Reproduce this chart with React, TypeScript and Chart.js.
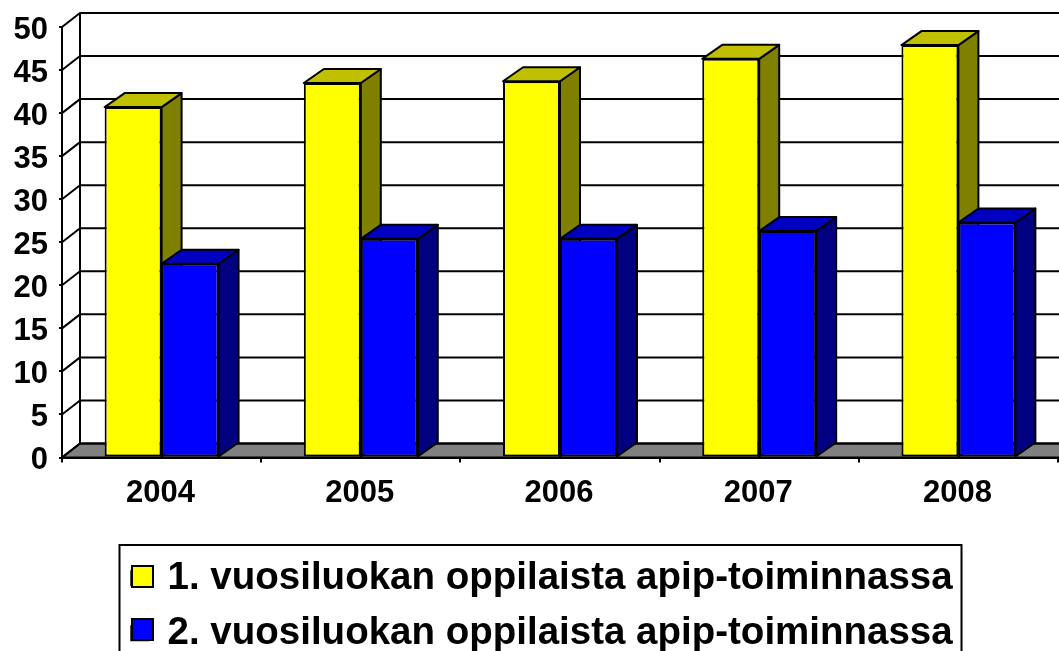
import React, { useEffect, useRef } from "react";
import { Chart, registerables } from "chart.js";

Chart.register(...registerables);

const years = ["2004", "2005", "2006", "2007", "2008"];
const firstGrade = [40.7, 43.5, 43.7, 46.3, 47.9];
const secondGrade = [22.5, 25.4, 25.4, 26.3, 27.3];
const firstLabel = "1. vuosiluokan oppilaista apip-toiminnassa";
const secondLabel = "2. vuosiluokan oppilaista apip-toiminnassa";

const FONT = "'Liberation Sans', Arial, sans-serif";
const WALL_DX = 18;
const BAR_DX = 20;
const DY = 14;
const sideColors = ["#808000", "#000080"];
const topColors = ["#C0C000", "#0000C0"];
const faceColors = ["#FFFF00", "#0000FF"];

const poly = (ctx: CanvasRenderingContext2D, pts: number[][], fill: string | null) => {
  ctx.beginPath();
  pts.forEach((p, i) => (i ? ctx.lineTo(p[0], p[1]) : ctx.moveTo(p[0], p[1])));
  ctx.closePath();
  if (fill) {
    ctx.fillStyle = fill;
    ctx.fill();
  }
  ctx.stroke();
};

const depthPlugin = {
  id: "depth",
  afterLayout(chart: any) {
    chart.legend.left += 13;
    chart.legend.right += 13;
  },
  beforeDatasetsDraw(chart: any) {
    const { ctx, chartArea: a, scales } = chart;
    const y = scales.y;
    const farRight = chart.width + 40;
    ctx.save();
    ctx.strokeStyle = "#000";
    ctx.lineWidth = 2;
    ctx.lineJoin = "round";
    // floor
    poly(
      ctx,
      [
        [a.left, a.bottom],
        [a.left + WALL_DX, a.bottom - DY],
        [farRight, a.bottom - DY],
        [farRight, a.bottom],
      ],
      "#808080"
    );
    // back wall lines and side wall diagonals
    y.ticks.forEach((t: any) => {
      const py = y.getPixelForValue(t.value);
      ctx.beginPath();
      ctx.moveTo(a.left, py);
      ctx.lineTo(a.left + WALL_DX, py - DY);
      ctx.lineTo(farRight, py - DY);
      ctx.stroke();
    });
    ctx.beginPath();
    ctx.moveTo(a.left + WALL_DX, a.top - DY);
    ctx.lineTo(a.left + WALL_DX, a.bottom - DY);
    ctx.stroke();
    // sides and tops of the bars
    chart.data.datasets.forEach((_: any, di: number) => {
      chart.getDatasetMeta(di).data.forEach((bar: any) => {
        const { x, y: top, base, width } = bar.getProps(["x", "y", "base", "width"], true);
        const l = x - width / 2;
        const r = x + width / 2;
        poly(ctx, [[r, top], [r + BAR_DX, top - DY], [r + BAR_DX, base - DY], [r, base]], sideColors[di]);
        poly(ctx, [[l, top], [l + BAR_DX, top - DY], [r + BAR_DX, top - DY], [r, top]], topColors[di]);
      });
    });
    ctx.restore();
  },
  afterDraw(chart: any) {
    const { ctx } = chart;
    ctx.save();
    ctx.strokeStyle = "#000";
    ctx.lineWidth = 2;
    ctx.strokeRect(119.5, 545, 842, 200);
    // full-size legend swatches over the narrower ones that set the text gap
    faceColors.forEach((c, i) => {
      ctx.fillStyle = c;
      ctx.fillRect(132, 566 + i * 53, 21, 21);
      ctx.strokeRect(132, 566 + i * 53, 21, 21);
    });
    ctx.restore();
  },
};

export default function App() {
  const ref = useRef<HTMLCanvasElement>(null);
  useEffect(() => {
    const chart = new Chart(ref.current as HTMLCanvasElement, {
      type: "bar",
      data: {
        labels: years,
        datasets: [
          { label: firstLabel, data: firstGrade, backgroundColor: faceColors[0] },
          { label: secondLabel, data: secondGrade, backgroundColor: faceColors[1] },
        ].map((d) => ({
          ...d,
          borderColor: "#000",
          borderWidth: 2,
          borderSkipped: false,
          barPercentage: 1,
          categoryPercentage: 0.572,
        })),
      },
      options: {
        responsive: false,
        animation: false,
        events: [],
        layout: { padding: { top: 27, right: 1, left: 0, bottom: -11.5 } },
        plugins: {
          title: { display: false },
          tooltip: { enabled: false },
          legend: {
            position: "bottom",
            labels: {
              boxWidth: 17,
              boxHeight: 14,
              padding: 16.5,
              color: "#000",
              font: { family: FONT, size: 38.5, weight: "bold" },
            },
          },
        },
        scales: {
          x: {
            grid: { drawOnChartArea: false, color: "#000", tickLength: 5, lineWidth: 2 },
            border: { color: "#000", width: 2 },
            ticks: {
              color: "#000",
              padding: 12,
              maxRotation: 0,
              labelOffset: -1,
              font: { family: FONT, size: 31, weight: "bold" },
            },
            afterFit: (s: any) => {
              s.height = 85;
              s.paddingLeft = 0;
              s.paddingRight = 0;
            },
          },
          y: {
            min: 0,
            max: 50,
            grid: { drawOnChartArea: false, color: "#000", tickLength: 3, lineWidth: 2 },
            border: { color: "#000", width: 2 },
            ticks: {
              stepSize: 5,
              color: "#000",
              padding: 11,
              labelOffset: 3,
              font: { family: FONT, size: 31, weight: "bold" },
            },
            afterFit: (s: any) => {
              s.width = 62;
              s.paddingTop = 0;
              s.paddingBottom = 0;
            },
          },
        },
      },
      plugins: [depthPlugin],
    } as any);
    return () => chart.destroy();
  }, []);
  return (
    <div style={{ position: "fixed", left: 0, top: 0, width: 1059, height: 651, background: "#fff" }}>
      <canvas ref={ref} width={1059} height={651} style={{ display: "block" }} />
    </div>
  );
}
